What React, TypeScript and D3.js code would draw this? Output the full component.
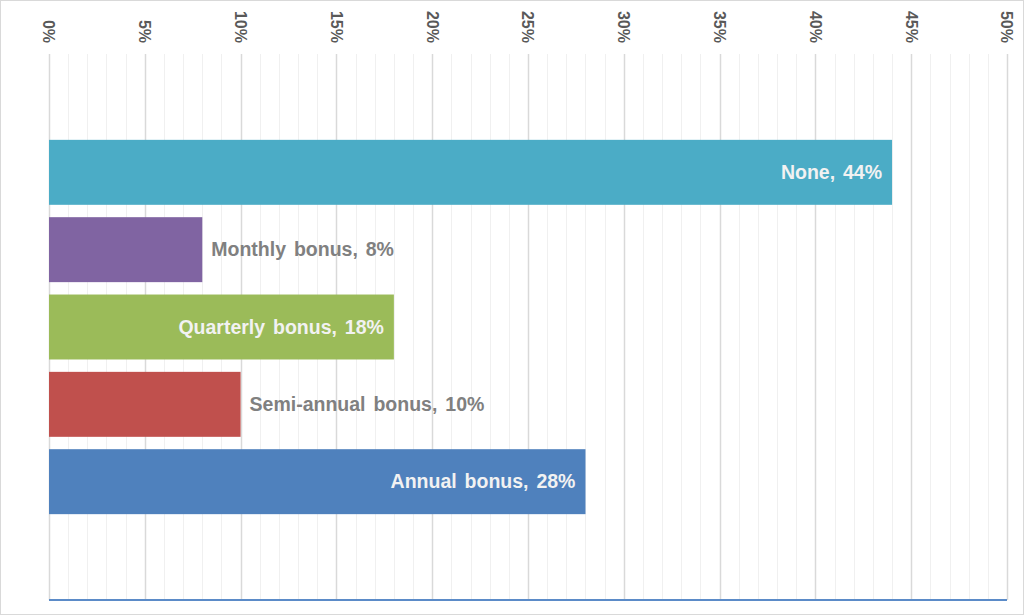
import React, { useEffect, useRef } from "react";
import * as d3 from "d3";

const categories = ["None", "Monthly bonus", "Quarterly bonus", "Semi-annual bonus", "Annual bonus"];
const values = [44, 8, 18, 10, 28];
const colors = ["#4BACC6", "#8064A2", "#9BBB59", "#C0504D", "#4F81BD"];
const xTicks = [0, 5, 10, 15, 20, 25, 30, 35, 40, 45, 50];

export default function App() {
  const ref = useRef<SVGSVGElement>(null);

  useEffect(() => {
    const width = 1024;
    const height = 615;
    const margin = { top: 54, right: 17, bottom: 15, left: 49 };
    const innerW = width - margin.left - margin.right;
    const innerH = height - margin.top - margin.bottom;

    const svg = d3.select(ref.current);
    svg.selectAll("*").remove();
    svg.attr("width", width).attr("height", height);

    svg
      .append("rect")
      .attr("x", 0.5)
      .attr("y", 0.5)
      .attr("width", width - 1)
      .attr("height", height - 1)
      .attr("fill", "#fff")
      .attr("stroke", "#d9d9d9");

    const g = svg.append("g").attr("transform", `translate(${margin.left},${margin.top})`);

    const x = d3.scaleLinear().domain([0, 50]).range([0, innerW]);
    const y = d3
      .scaleBand()
      .domain(categories)
      .range([0, innerH])
      .paddingInner(0.16)
      .paddingOuter(1.11);

    // minor gridlines
    g.append("g")
      .selectAll("line")
      .data(d3.range(0, 51, 1).filter((d) => d % 5 !== 0))
      .enter()
      .append("line")
      .attr("x1", (d) => Math.round(x(d)) + 0.5)
      .attr("x2", (d) => Math.round(x(d)) + 0.5)
      .attr("y1", 0)
      .attr("y2", innerH)
      .attr("stroke", "#f0f0f0");

    // major gridlines
    g.append("g")
      .selectAll("line")
      .data(xTicks)
      .enter()
      .append("line")
      .attr("x1", (d) => Math.round(x(d)) + 0.5)
      .attr("x2", (d) => Math.round(x(d)) + 0.5)
      .attr("y1", 0)
      .attr("y2", innerH)
      .attr("stroke", "#d9d9d9")
      .attr("stroke-width", 1.5);

    // tick labels, rotated
    g.append("g")
      .selectAll("text")
      .data(xTicks)
      .enter()
      .append("text")
      .attr("transform", (d) => `translate(${x(d)},-11) rotate(90)`)
      .attr("text-anchor", "end")
      .attr("dy", "0.35em")
      .attr("font-family", "Liberation Sans, Arial, sans-serif")
      .attr("font-weight", "bold")
      .attr("font-size", 16)
      .attr("fill", "#595959")
      .text((d) => `${d}%`);

    // bars
    g.append("g")
      .selectAll("rect")
      .data(categories)
      .enter()
      .append("rect")
      .attr("x", 0)
      .attr("y", (d) => y(d)!)
      .attr("width", (_, i) => x(values[i]))
      .attr("height", y.bandwidth())
      .attr("fill", (_, i) => colors[i]);

    // bar labels
    g.append("g")
      .selectAll("text")
      .data(categories)
      .enter()
      .append("text")
      .each(function (d, i) {
        const inside = values[i] >= 15;
        d3.select(this)
          .attr("x", inside ? x(values[i]) - 10 : x(values[i]) + 9)
          .attr("text-anchor", inside ? "end" : "start")
          .attr("fill", inside ? "#f2f2f2" : "#808080");
      })
      .attr("y", (d) => y(d)! + y.bandwidth() / 2)
      .attr("dy", "0.35em")
      .attr("font-family", "Liberation Sans, Arial, sans-serif")
      .attr("font-weight", "bold")
      .attr("font-size", 19.5)
      .attr("word-spacing", 2.5)
      .text((d, i) => `${d}, ${values[i]}%`);

    // bottom axis line
    g.append("line")
      .attr("x1", 0)
      .attr("x2", innerW)
      .attr("y1", innerH)
      .attr("y2", innerH)
      .attr("stroke", "#5B8BC8")
      .attr("stroke-width", 2);
  }, []);

  return (
    <div style={{ position: "absolute", left: 0, top: 0 }}>
      <svg ref={ref} style={{ display: "block" }} />
    </div>
  );
}
